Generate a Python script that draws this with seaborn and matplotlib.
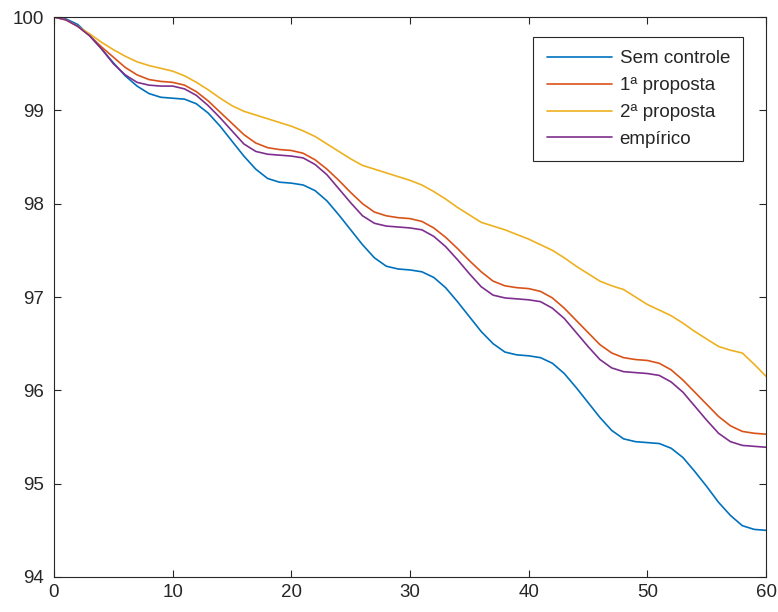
import matplotlib
matplotlib.use("Agg")
import matplotlib.pyplot as plt
import numpy as np
import pandas as pd
import seaborn as sns

# Time axis (0..60)
x = list(range(0, 61))

# Values
sem_controle = [100.00, 99.98, 99.92, 99.80, 99.66, 99.51, 99.37, 99.26, 99.18, 99.14,
                99.13, 99.12, 99.07, 98.97, 98.83, 98.67, 98.51, 98.37, 98.27, 98.23,
                98.22, 98.20, 98.14, 98.03, 97.88, 97.72, 97.56, 97.42, 97.33, 97.30,
                97.29, 97.27, 97.21, 97.10, 96.95, 96.79, 96.63, 96.50, 96.41, 96.38,
                96.37, 96.35, 96.29, 96.18, 96.03, 95.87, 95.71, 95.57, 95.48, 95.45,
                95.44, 95.43, 95.38, 95.28, 95.13, 94.97, 94.80, 94.66, 94.55, 94.51,
                94.50]
proposta1 = [100.00, 99.97, 99.90, 99.80, 99.68, 99.57, 99.46, 99.38, 99.33, 99.31,
             99.30, 99.27, 99.20, 99.10, 98.98, 98.86, 98.74, 98.65, 98.60, 98.58,
             98.57, 98.54, 98.47, 98.37, 98.25, 98.12, 98.00, 97.91, 97.87, 97.85,
             97.84, 97.81, 97.74, 97.64, 97.52, 97.39, 97.27, 97.17, 97.12, 97.10,
             97.09, 97.06, 96.99, 96.88, 96.75, 96.62, 96.49, 96.40, 96.35, 96.33,
             96.32, 96.29, 96.22, 96.11, 95.98, 95.85, 95.72, 95.62, 95.56, 95.54,
             95.53]
proposta2 = [100.00, 99.97, 99.90, 99.82, 99.73, 99.65, 99.58, 99.52, 99.48, 99.45,
             99.42, 99.37, 99.30, 99.22, 99.13, 99.05, 98.99, 98.95, 98.91, 98.87,
             98.83, 98.78, 98.72, 98.64, 98.56, 98.48, 98.41, 98.37, 98.33, 98.29,
             98.25, 98.20, 98.13, 98.05, 97.96, 97.88, 97.80, 97.76, 97.72, 97.67,
             97.62, 97.56, 97.50, 97.42, 97.33, 97.25, 97.17, 97.12, 97.08, 97.00,
             96.92, 96.86, 96.80, 96.72, 96.63, 96.55, 96.47, 96.43, 96.40, 96.28,
             96.15]
empirico = [100.00, 99.97, 99.90, 99.80, 99.66, 99.50, 99.38, 99.30, 99.27, 99.26,
            99.26, 99.23, 99.16, 99.05, 98.92, 98.78, 98.64, 98.56, 98.53, 98.52,
            98.51, 98.49, 98.42, 98.31, 98.16, 98.01, 97.87, 97.79, 97.76, 97.75,
            97.74, 97.72, 97.65, 97.54, 97.40, 97.25, 97.11, 97.02, 96.99, 96.98,
            96.97, 96.95, 96.88, 96.77, 96.62, 96.47, 96.33, 96.24, 96.20, 96.19,
            96.18, 96.16, 96.09, 95.98, 95.83, 95.68, 95.54, 95.45, 95.41, 95.40,
            95.39]

labels = ["Sem controle", "1ª proposta", "2ª proposta", "empírico"]
colors = ["#0072BD", "#D95319", "#EDB120", "#7E2F8E"]

# Long table for seaborn
df = pd.concat([
    pd.DataFrame({"t": x, "v": vals, "serie": lab})
    for lab, vals in zip(labels, [sem_controle, proposta1, proposta2, empirico])
])

sns.set_style("ticks")
plt.rcParams["font.family"] = ["Liberation Sans", "DejaVu Sans"]

fig = plt.figure(figsize=(7.78, 6.12), dpi=100)
ax = fig.add_axes([0.0694, 0.0572, 0.9152, 0.915])

sns.lineplot(data=df, x="t", y="v", hue="serie", hue_order=labels,
             palette=colors, linewidth=1.2, ax=ax)

ax.set_xlim(0, 60)
ax.set_ylim(94, 100)
ax.set_xticks(range(0, 61, 10))
ax.set_yticks(range(94, 101))
ax.set_xlabel("")
ax.set_ylabel("")

for s in ax.spines.values():
    s.set_color("#262626")
    s.set_linewidth(0.8)
ax.tick_params(direction="in", length=5, width=0.8, color="#262626",
               labelsize=13.5, labelcolor="#262626", top=True, right=True)
ax.tick_params(axis="y", pad=7)
ax.tick_params(axis="x", pad=5)

leg = ax.legend(loc="upper right", bbox_to_anchor=(0.968, 0.964),
                borderaxespad=0, fontsize=13.5, frameon=True, fancybox=False,
                handlelength=3.5, labelspacing=0.52, borderpad=0.7,
                handletextpad=0.4)
leg.get_frame().set_edgecolor("#262626")
leg.get_frame().set_linewidth(0.8)
leg.get_frame().set_alpha(1)

fig.savefig("out.png", dpi=100)
